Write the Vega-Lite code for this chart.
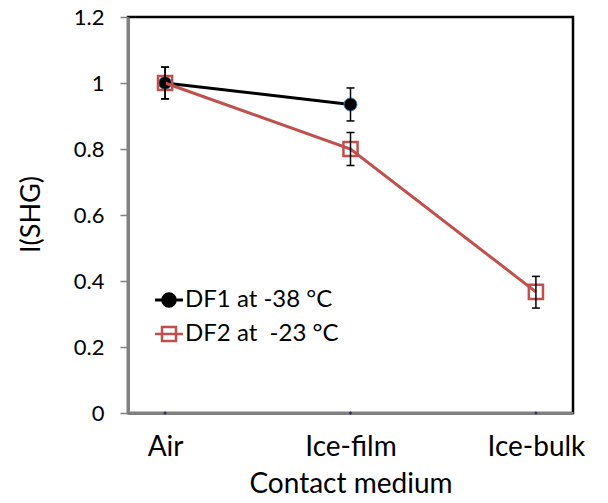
{
  "$schema": "https://vega.github.io/schema/vega-lite/v6.json",
  "autosize": {"type": "none"},
  "padding": {"left": 128, "top": 17, "right": 35, "bottom": 90},
  "width": 445,
  "height": 396,
  "background": "white",
  "config": {
    "font": "Lato",
    "view": {"stroke": "black", "strokeWidth": 2.5}
  },
  "datasets": {
    "pts": [
      {"medium": "Air", "series": "DF1 at -38 °C", "value": 1.0, "lo": 0.952, "hi": 1.048},
      {"medium": "Ice-film", "series": "DF1 at -38 °C", "value": 0.935, "lo": 0.885, "hi": 0.985},
      {"medium": "Air", "series": "DF2 at\u00a0 -23 °C", "value": 1.0, "lo": 0.952, "hi": 1.048},
      {"medium": "Ice-film", "series": "DF2 at\u00a0 -23 °C", "value": 0.80, "lo": 0.75, "hi": 0.85},
      {"medium": "Ice-bulk", "series": "DF2 at\u00a0 -23 °C", "value": 0.367, "lo": 0.318, "hi": 0.414}
    ],
    "base": [
      {"medium": "Air", "value": 0},
      {"medium": "Ice-film", "value": 0},
      {"medium": "Ice-bulk", "value": 0}
    ]
  },
  "encoding": {
    "x": {
      "field": "medium",
      "type": "nominal",
      "sort": ["Air", "Ice-film", "Ice-bulk"],
      "scale": {"type": "point", "padding": 0.2, "domain": ["Air", "Ice-film", "Ice-bulk"]},
      "axis": {
        "title": "Contact medium",
        "titleFont": "Lato",
        "titleFontSize": 28,
        "titleFontWeight": "normal",
        "titleColor": "black",
        "titlePadding": 9,
        "labelFont": "Lato",
        "labelFontSize": 28,
        "labelColor": "black",
        "labelAngle": 0,
        "labelPadding": 20,
        "ticks": false,
        "domainColor": "#808080",
        "domainWidth": 3,
        "grid": false
      }
    }
  },
  "layer": [
    {
      "data": {"name": "pts"},
      "transform": [{"filter": "datum.series === 'DF1 at -38 °C'"}],
      "mark": {"type": "line", "strokeWidth": 3},
      "encoding": {
        "y": {
          "field": "value",
          "type": "quantitative",
          "scale": {"domain": [0, 1.2], "nice": false},
          "axis": {
            "title": "I(SHG)",
            "titleFont": "Lato",
            "titleFontSize": 27,
            "titleFontWeight": "normal",
            "titleColor": "black",
            "titleAngle": -90,
            "titleX": -97,
            "titleY": 197,
            "titleAlign": "center",
            "titleBaseline": "middle",
            "values": [0, 0.2, 0.4, 0.6, 0.8, 1, 1.2],
            "format": "~g",
            "labelFont": "Lato",
            "labelFontSize": 22,
            "labelColor": "black",
            "labelPadding": 16,
            "tickSize": 8,
            "tickColor": "#808080",
            "tickWidth": 1.5,
            "domainColor": "#808080",
            "domainWidth": 3,
            "grid": false
          }
        },
        "color": {
          "field": "series",
          "type": "nominal",
          "scale": {"domain": ["DF1 at -38 °C", "DF2 at\u00a0 -23 °C"], "range": ["black", "#c0504d"]},
          "legend": {
            "title": null,
            "orient": "none",
            "legendX": 29,
            "legendY": 271,
            "padding": 0,
            "rowPadding": 9,
            "symbolSize": 784,
            "labelFont": "Lato",
            "labelFontSize": 24,
            "labelColor": "black",
            "labelOffset": 4,
            "symbolStrokeWidth": 3,
            "encode": {
              "symbols": {
                "update": {
                  "shape": {"signal": "datum.value === 'DF1 at -38 °C' ? 'M-1,0H1M-0.45,0A0.45,0.45 0 1,0 0.45,0A0.45,0.45 0 1,0 -0.45,0Z' : 'M-1,0H1M-0.5,-0.5H0.5V0.5H-0.5Z'"},
                  "fill": {"signal": "datum.value === 'DF1 at -38 °C' ? 'black' : 'transparent'"},
                  "size": {"value": 784},
                  "strokeWidth": {"signal": "datum.value === 'DF1 at -38 °C' ? 3 : 2.5"}
                }
              }
            }
          }
        }
      }
    },
    {
      "data": {"name": "pts"},
      "transform": [{"filter": "datum.series === 'DF1 at -38 °C'"}],
      "mark": {"type": "point", "shape": "circle", "filled": true, "fill": "black", "stroke": "#4f81bd", "strokeWidth": 1, "size": 170, "opacity": 1},
      "encoding": {"y": {"field": "value", "type": "quantitative"}}
    },
    {
      "data": {"name": "pts"},
      "transform": [{"filter": "datum.series !== 'DF1 at -38 °C'"}],
      "mark": {"type": "line", "strokeWidth": 3, "color": "#c0504d"},
      "encoding": {"y": {"field": "value", "type": "quantitative"}}
    },
    {
      "data": {"name": "pts"},
      "transform": [{"filter": "datum.series !== 'DF1 at -38 °C'"}],
      "mark": {"type": "point", "shape": "square", "filled": false, "fill": "transparent", "stroke": "#c0504d", "strokeWidth": 2.5, "size": 200, "opacity": 1},
      "encoding": {"y": {"field": "value", "type": "quantitative"}}
    },
    {
      "data": {"name": "pts"},
      "mark": {"type": "rule", "color": "black", "strokeWidth": 1.5},
      "encoding": {
        "y": {"field": "lo", "type": "quantitative"},
        "y2": {"field": "hi"}
      }
    },
    {
      "data": {"name": "pts"},
      "mark": {"type": "tick", "orient": "horizontal", "color": "black", "thickness": 1.5, "size": 8, "opacity": 1},
      "encoding": {"y": {"field": "lo", "type": "quantitative"}}
    },
    {
      "data": {"name": "pts"},
      "mark": {"type": "tick", "orient": "horizontal", "color": "black", "thickness": 1.5, "size": 8, "opacity": 1},
      "encoding": {"y": {"field": "hi", "type": "quantitative"}}
    },
    {
      "data": {"name": "base"},
      "mark": {"type": "point", "shape": "diamond", "filled": true, "color": "#3b2c6e", "size": 14, "opacity": 1, "clip": false},
      "encoding": {"y": {"field": "value", "type": "quantitative"}}
    }
  ]
}
